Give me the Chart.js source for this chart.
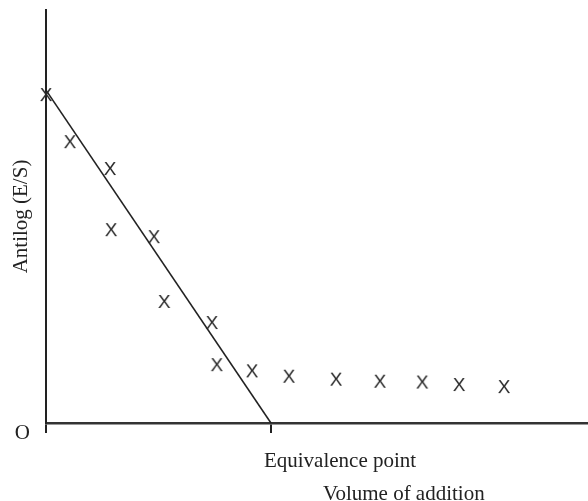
<!DOCTYPE html>
<html>
<head>
<meta charset="utf-8">
<script src="https://cdn.jsdelivr.net/npm/chart.js@4"></script>
<style>
  html, body { margin: 0; padding: 0; background: #fff; }
  #wrap { width: 588px; height: 501px; }
</style>
</head>
<body>
<div id="wrap"><canvas id="chart" width="588" height="501"></canvas></div>
<script>
// Dados
const volumes = [0, 4.4, 11.8, 12.0, 19.9, 21.8, 30.6, 31.5, 38.0, 44.8, 53.5, 61.6, 69.4, 76.2, 84.5];
const antilogValues = [79.4, 68.0, 61.5, 46.7, 45.0, 29.3, 24.2, 14.0, 12.5, 11.2, 10.5, 10.0, 9.8, 9.2, 8.7];
const fitX = [0, 41.5];
const fitY = [80.6, 0];
const equivalencePoint = 41.5;
const xTicks = [0, equivalencePoint];

const ink = '#222';
const serif = '"Liberation Serif", "Times New Roman", serif';

// Marcador "X" em fonte sem serifa
const makeMarker = () => {
    const c = document.createElement('canvas');
    c.width = 18;
    c.height = 20;
    const g = c.getContext('2d');
    g.fillStyle = '#2a2a2a';
    g.font = '19px "Liberation Sans", Arial, sans-serif';
    g.textAlign = 'center';
    g.textBaseline = 'middle';
    g.fillText('X', 9, 10.5);
    return c;
};

// Textos desenhados a partir das escalas
const labelsPlugin = {
    id: 'labels',
    afterDraw(chart) {
        const ctx = chart.ctx;
        const xs = chart.scales.x;
        const ys = chart.scales.y;
        const x0 = xs.getPixelForValue(0);
        const y0 = ys.getPixelForValue(0);
        const xe = xs.getPixelForValue(equivalencePoint);
        ctx.save();
        ctx.fillStyle = ink;
        ctx.font = '21px ' + serif;
        ctx.textBaseline = 'alphabetic';
        ctx.textAlign = 'right';
        ctx.fillText('O', x0 - 16, y0 + 16);
        ctx.textAlign = 'left';
        ctx.fillText('Equivalence point', xe - 7, y0 + 44);
        ctx.fillText('Volume of addition', xe + 52, y0 + 77);
        ctx.translate(x0 - 19, (ys.top + y0) / 2);
        ctx.rotate(-Math.PI / 2);
        ctx.textAlign = 'center';
        ctx.fillText('Antilog (E/S)', 0, 0);
        ctx.restore();
    }
};

const ctx = document.getElementById('chart').getContext('2d');
new Chart(ctx, {
    type: 'scatter',
    data: {
        datasets: [
            {
                label: 'Antilog',
                data: volumes.map((v, i) => ({ x: v, y: antilogValues[i] })),
                pointStyle: makeMarker(),
                pointRadius: 9,
                clip: false
            },
            {
                type: 'line',
                label: 'Ajuste',
                data: fitX.map((v, i) => ({ x: v, y: fitY[i] })),
                borderColor: ink,
                borderWidth: 1.6,
                pointRadius: 0,
                fill: false
            }
        ]
    },
    options: {
        responsive: false,
        animation: false,
        layout: { autoPadding: false, padding: { top: 10, right: 0, left: 0, bottom: 0 } },
        plugins: {
            legend: { display: false },
            tooltip: { enabled: false }
        },
        scales: {
            x: {
                type: 'linear',
                min: 0,
                max: 100,
                afterBuildTicks: (scale) => { scale.ticks = xTicks.map(v => ({ value: v })); },
                afterFit: (scale) => { scale.height = 78; },
                grid: { display: true, drawOnChartArea: false, drawTicks: true, tickLength: 10, color: ink, lineWidth: 2 },
                border: { display: true, color: '#333', width: 2.5 },
                ticks: { display: false }
            },
            y: {
                type: 'linear',
                min: 0,
                max: 100,
                afterFit: (scale) => { scale.width = 46; },
                grid: { display: false },
                border: { display: true, color: ink, width: 2 },
                ticks: { display: false }
            }
        }
    },
    plugins: [labelsPlugin]
});
</script>
</body>
</html>
